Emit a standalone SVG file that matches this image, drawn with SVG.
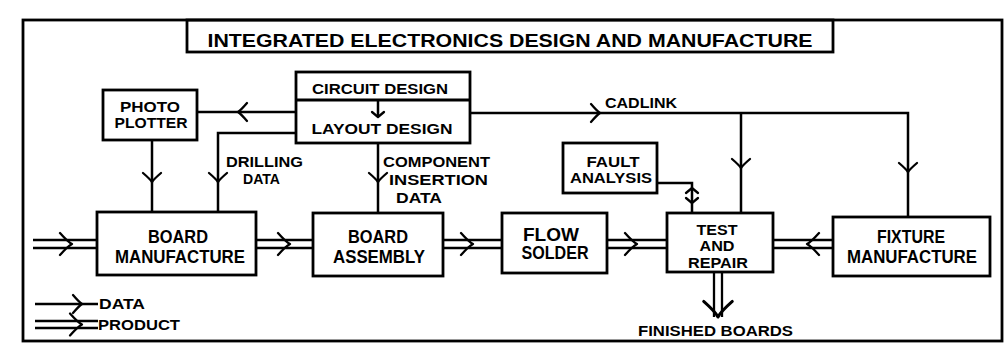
<svg xmlns="http://www.w3.org/2000/svg" xmlns:xlink="http://www.w3.org/1999/xlink" width="1005" height="359" viewBox="0 0 1005 359">
<style>
.bx{fill:none;stroke:#000;stroke-width:2.8}
.ln{fill:none;stroke:#000;stroke-width:2.5}
.pl{fill:none;stroke:#000;stroke-width:2.3}
.ch{fill:none;stroke:#000;stroke-width:2.3;stroke-linecap:round;stroke-linejoin:round}
text{font-family:"Liberation Sans",Arial,sans-serif;font-weight:bold;fill:#000}
.m{font-size:18px;text-anchor:middle}
.s{font-size:14px;text-anchor:middle}
.l{font-size:14px}
</style>
<defs>
<path id="cd" class="ch" d="M-9,-9 Q-3,-2 0,0 Q-3,2 -9,9"/>
<path id="cp" class="ch" d="M-12,-11 Q-4,-2 0,0 Q-4,2 -12,11"/>
<path id="cs" class="ch" d="M-5,-6 L0,0 L-5,6"/>
</defs>
<rect fill="#fff" width="1005" height="359"/>
<g id="frame">
<rect class="bx" x="23" y="20" width="979" height="321"/>
</g>
<g id="title">
<rect class="bx" x="187" y="20" width="646" height="32"/>
<text x="510" y="47" font-size="19" text-anchor="middle" textLength="605" lengthAdjust="spacingAndGlyphs">INTEGRATED ELECTRONICS DESIGN AND MANUFACTURE</text>
</g>
<g id="connectors">
<path class="ln" d="M296,112 H197"/>
<use xlink:href="#cd" transform="translate(238,112) rotate(180)"/>
<path class="ln" d="M152,140 V212"/>
<use xlink:href="#cd" transform="translate(152,182) rotate(90)"/>
<path class="ln" d="M296,133 H218 V212"/>
<use xlink:href="#cd" transform="translate(218,182) rotate(90)"/>
<path class="ln" d="M378,100 V117"/>
<use xlink:href="#cs" transform="translate(378,117) rotate(90)"/>
<path class="ln" d="M378,143 V213"/>
<use xlink:href="#cd" transform="translate(378,182) rotate(90)"/>
<path class="ln" d="M470,113 H908 V217"/>
<use xlink:href="#cd" transform="translate(600,113)"/>
<use xlink:href="#cd" transform="translate(908,172) rotate(90)"/>
<path class="ln" d="M741,113 V213"/>
<use xlink:href="#cd" transform="translate(741,168) rotate(90)"/>
<path class="ln" d="M657,183 H692 V213"/>
<use xlink:href="#cs" transform="translate(692,188) rotate(-90)"/>
<use xlink:href="#cs" transform="translate(692,203) rotate(90)"/>
<path class="pl" d="M33,240 H97 M33,248 H97"/>
<use xlink:href="#cp" transform="translate(72,244)"/>
<path class="pl" d="M256,240 H313 M256,248 H313"/>
<use xlink:href="#cp" transform="translate(290,244)"/>
<path class="pl" d="M443,240 H502 M443,248 H502"/>
<use xlink:href="#cp" transform="translate(473,244)"/>
<path class="pl" d="M607,240 H667 M607,248 H667"/>
<use xlink:href="#cp" transform="translate(637,244)"/>
<path class="pl" d="M773,240 H833 M773,248 H833"/>
<use xlink:href="#cp" transform="translate(807,244) rotate(180)"/>
<path class="pl" d="M714,272 V317 M722,272 V317"/>
<use xlink:href="#cp" transform="translate(718,317) rotate(90) scale(1.3)"/>
</g>
<g id="photo-plotter">
<rect class="bx" x="103" y="90" width="94" height="50"/>
<text class="s" x="150" y="112" textLength="60" lengthAdjust="spacingAndGlyphs">PHOTO</text>
<text class="s" x="151" y="128" textLength="73" lengthAdjust="spacingAndGlyphs">PLOTTER</text>
</g>
<g id="circuit-design">
<rect class="bx" x="296" y="72" width="174" height="71"/>
<path class="bx" d="M296,100 H470"/>
<text class="s" x="380" y="94" textLength="136" lengthAdjust="spacingAndGlyphs">CIRCUIT DESIGN</text>
<text class="s" x="382" y="134" textLength="141" lengthAdjust="spacingAndGlyphs">LAYOUT DESIGN</text>
</g>
<g id="drilling-label">
<text class="l" x="226" y="167" textLength="77" lengthAdjust="spacingAndGlyphs">DRILLING</text>
<text class="l" x="243" y="184" textLength="37" lengthAdjust="spacingAndGlyphs">DATA</text>
</g>
<g id="component-label">
<text class="l" x="383" y="167" textLength="107" lengthAdjust="spacingAndGlyphs">COMPONENT</text>
<text class="l" x="389" y="185" textLength="99" lengthAdjust="spacingAndGlyphs">INSERTION</text>
<text class="l" x="396" y="203" textLength="46" lengthAdjust="spacingAndGlyphs">DATA</text>
</g>
<g id="cadlink-label">
<text class="l" x="605" y="108" textLength="72" lengthAdjust="spacingAndGlyphs">CADLINK</text>
</g>
<g id="fault-analysis">
<rect class="bx" x="563" y="143" width="94" height="50"/>
<text class="s" x="613" y="167" textLength="53" lengthAdjust="spacingAndGlyphs">FAULT</text>
<text class="s" x="611" y="183" textLength="82" lengthAdjust="spacingAndGlyphs">ANALYSIS</text>
</g>
<g id="board-manufacture">
<rect class="bx" x="97" y="212" width="159" height="63"/>
<text class="m" x="178" y="243" textLength="60" lengthAdjust="spacingAndGlyphs">BOARD</text>
<text class="m" x="180" y="263" textLength="130" lengthAdjust="spacingAndGlyphs">MANUFACTURE</text>
</g>
<g id="board-assembly">
<rect class="bx" x="313" y="213" width="130" height="63"/>
<text class="m" x="378" y="243" textLength="60" lengthAdjust="spacingAndGlyphs">BOARD</text>
<text class="m" x="379" y="263" textLength="92" lengthAdjust="spacingAndGlyphs">ASSEMBLY</text>
</g>
<g id="flow-solder">
<rect class="bx" x="502" y="213" width="105" height="60"/>
<text class="m" x="551" y="241" textLength="56" lengthAdjust="spacingAndGlyphs">FLOW</text>
<text class="m" x="555" y="259" textLength="67" lengthAdjust="spacingAndGlyphs">SOLDER</text>
</g>
<g id="test-and-repair">
<rect class="bx" x="667" y="213" width="106" height="59"/>
<text class="s" x="717" y="235" textLength="41" lengthAdjust="spacingAndGlyphs">TEST</text>
<text class="s" x="717" y="251" textLength="35" lengthAdjust="spacingAndGlyphs">AND</text>
<text class="s" x="718" y="268" textLength="60" lengthAdjust="spacingAndGlyphs">REPAIR</text>
</g>
<g id="fixture-manufacture">
<rect class="bx" x="833" y="217" width="157" height="59"/>
<text class="m" x="911" y="243" textLength="68" lengthAdjust="spacingAndGlyphs">FIXTURE</text>
<text class="m" x="912" y="263" textLength="130" lengthAdjust="spacingAndGlyphs">MANUFACTURE</text>
</g>
<g id="finished-boards">
<text class="l" x="638" y="336" textLength="155" lengthAdjust="spacingAndGlyphs">FINISHED BOARDS</text>
</g>
<g id="legend">
<path class="ln" d="M35,304 H98"/>
<use xlink:href="#cd" transform="translate(82,304)"/>
<path class="pl" d="M35,321 H98 M35,328 H98"/>
<use xlink:href="#cp" transform="translate(82,324.5)"/>
<text class="l" x="99" y="309" textLength="46" lengthAdjust="spacingAndGlyphs">DATA</text>
<text class="l" x="98" y="330" textLength="82" lengthAdjust="spacingAndGlyphs">PRODUCT</text>
</g>
</svg>
